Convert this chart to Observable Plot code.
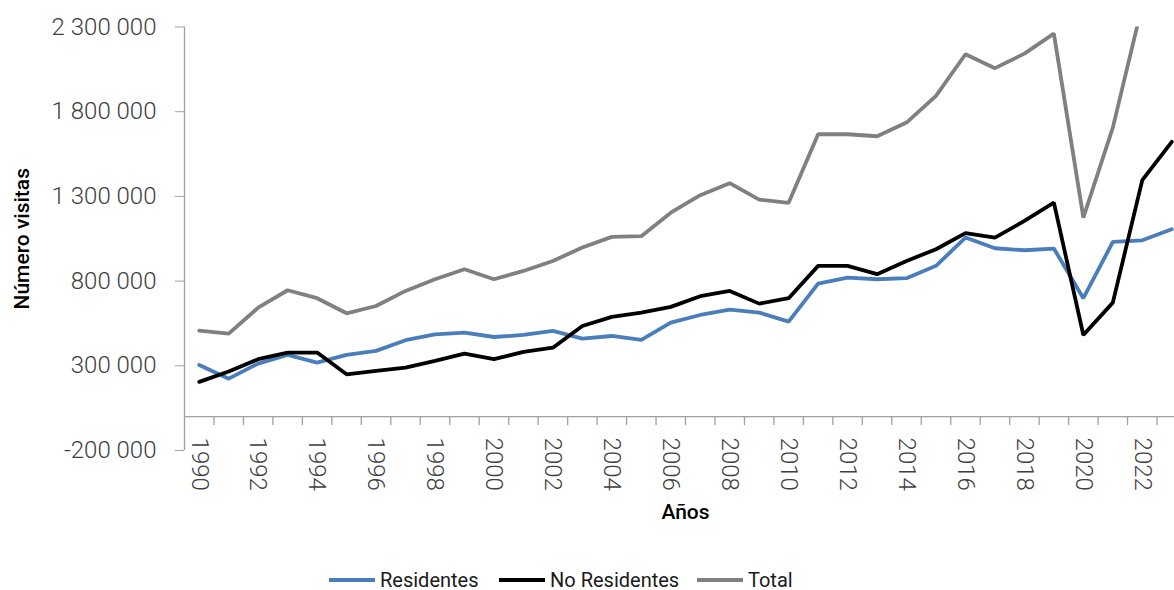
<!DOCTYPE html>
<html>
<head>
<meta charset="utf-8">
<script src="https://cdn.jsdelivr.net/npm/d3@7"></script>
<script src="https://cdn.jsdelivr.net/npm/@observablehq/plot@0.6"></script>
<style>
  html, body { margin: 0; padding: 0; background: #fff; }
  body { position: relative; width: 1174px; height: 590px; font-family: Roboto, "Noto Sans", sans-serif; }
  #chart svg { display: block; }
  .item { position: absolute; top: 570px; height: 20px; line-height: 20px; display: flex; align-items: center; font-size: 20px; color: #1a1a1a; white-space: nowrap; }
  .swatch { width: 46px; height: 4px; margin-right: 5px; }
</style>
</head>
<body>
<div id="chart"></div>
<div id="legend"></div>
<script>
const years = [1990,1991,1992,1993,1994,1995,1996,1997,1998,1999,2000,2001,2002,2003,2004,2005,2006,2007,2008,2009,2010,2011,2012,2013,2014,2015,2016,2017,2018,2019,2020,2021,2022,2023];
const residentes = [305000,224000,313000,364000,319000,364000,388000,451000,486000,496000,470000,482000,506000,460000,476000,453000,555000,600000,632000,614000,561000,785000,820000,811000,817000,890000,1057000,994000,982000,992000,699000,1031000,1041000,1106000];
const noResidentes = [205000,266000,339000,378000,378000,250000,270000,289000,329000,372000,339000,382000,407000,535000,589000,614000,648000,711000,742000,667000,699000,890000,890000,841000,919000,988000,1083000,1057000,1155000,1263000,482000,673000,1396000,1622000];
const total = [508000,490000,643000,746000,699000,610000,653000,742000,811000,870000,811000,860000,919000,998000,1061000,1065000,1204000,1307000,1378000,1281000,1262000,1667000,1667000,1655000,1736000,1893000,2139000,2057000,2143000,2261000,1175000,1706000,2430000,2730000];
const seriesNames = ["Residentes", "No Residentes", "Total"];
const seriesColors = ["#4a7ebb", "#000000", "#808080"];
const yTicks = [-200000, 300000, 800000, 1300000, 1800000, 2300000];
const xLabelYears = [1990,1992,1994,1996,1998,2000,2002,2004,2006,2008,2010,2012,2014,2016,2018,2020,2022];
const yTitle = "Número visitas";
const xTitle = "Años";

const seriesValues = [residentes, noResidentes, total];
const rows = [];
seriesNames.forEach((name, s) => years.forEach((yr, i) => rows.push({serie: name, year: yr, value: seriesValues[s][i]})));
const boundaries = years.map(y => y + 0.5);
const fmt = d => (d < 0 ? "-" : "") + d3.format(",")(Math.abs(d)).replace(/,/g, " ");
const axisGray = "#a0a0a0";

const chart = Plot.plot({
  width: 1174,
  height: 566,
  marginLeft: 184,
  marginRight: 0,
  marginTop: 26.5,
  marginBottom: 116,
  style: {fontFamily: "Roboto, 'Noto Sans', sans-serif", background: "white"},
  x: {domain: [1989.5, 2023.5], range: [184, 1186], axis: null},
  y: {domain: [-200000, 2300000], axis: null},
  color: {domain: seriesNames, range: seriesColors},
  marks: [
    Plot.ruleX([1989.5], {y1: -200000, y2: 2300000, stroke: axisGray, strokeWidth: 1.3}),
    Plot.axisY({ticks: yTicks, tickSize: 9, tickPadding: 19, tickFormat: fmt, fontSize: 24, fontWeight: 300, stroke: axisGray, fill: "#404040", label: null}),
    Plot.ruleY([0], {stroke: axisGray, strokeWidth: 1.3}),
    Plot.ruleX(boundaries, {x: d => d, y1: 0, y2: 0, insetBottom: -9, stroke: axisGray, strokeWidth: 1.3}),
    Plot.text(xLabelYears, {x: d => d, y: 0, text: d => String(d), rotate: 90, textAnchor: "start", dy: 21, fontSize: 24, fontWeight: 300, fill: "#404040"}),
    Plot.line(rows, {x: "year", y: "value", z: "serie", stroke: "serie", strokeWidth: 3.8, clip: true, strokeLinejoin: "miter"}),
    Plot.text([yTitle], {x: 1989.5, y: 1050000, text: d => d, rotate: -90, dx: -162, fontSize: 21, fontWeight: 500, fill: "#000"}),
    Plot.text([xTitle], {x: 2006.5, y: -200000, text: d => d, dy: 62, fontSize: 21, fontWeight: 500, fill: "#000"})
  ]
});
document.getElementById("chart").appendChild(chart);

const legend = document.getElementById("legend");
const lefts = [329, 499, 697];
seriesNames.forEach((name, i) => {
  const it = document.createElement("div");
  it.className = "item";
  it.style.left = lefts[i] + "px";
  const sw = document.createElement("div");
  sw.className = "swatch";
  sw.style.background = seriesColors[i];
  const tx = document.createElement("span");
  tx.textContent = name;
  it.appendChild(sw); it.appendChild(tx);
  legend.appendChild(it);
});
</script>
</body>
</html>
